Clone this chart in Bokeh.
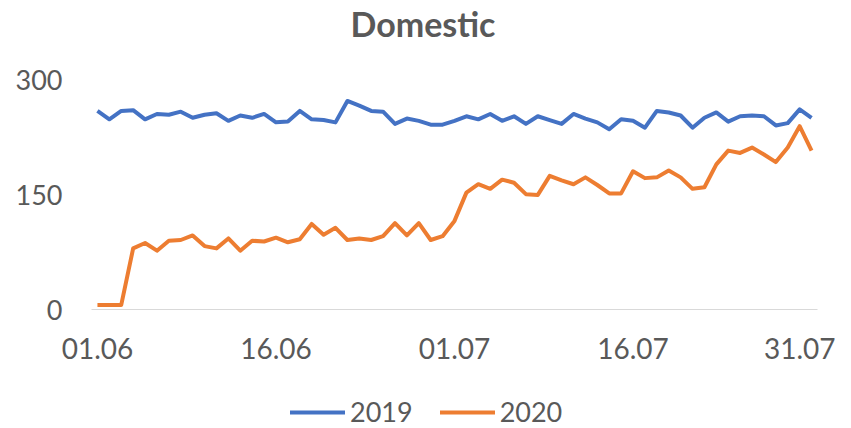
from bokeh.plotting import figure
from bokeh.layouts import column
from bokeh.models import ColumnDataSource, FixedTicker, Legend, LegendItem, Range1d
from bokeh.embed import file_html
from bokeh.resources import INLINE

# ---- data ----
days = list(range(61))  # 01.06 .. 31.07
tick_days = [0, 15, 30, 45, 60]
tick_labels = ["01.06", "16.06", "01.07", "16.07", "31.07"]
y_ticks = [0, 150, 300]

values_2019 = [260, 249, 260, 261, 249, 256, 255, 259, 251, 255, 257, 247, 254, 251, 256,
               245, 246, 260, 249, 248, 245, 273, 267, 260, 259, 243, 250, 247, 242, 242,
               247, 253, 249, 256, 247, 253, 243, 253, 248, 243, 256, 250, 245, 236, 249,
               247, 238, 260, 258, 254, 238, 251, 258, 246, 253, 254, 253, 241, 244, 262, 251]
values_2020 = [6, 6, 6, 80, 87, 77, 90, 91, 97, 83, 80, 93, 77, 90, 89,
               94, 88, 92, 112, 98, 107, 91, 93, 91, 96, 113, 97, 113, 91, 96,
               116, 153, 164, 158, 170, 166, 151, 150, 175, 169, 164, 173, 163, 152, 152,
               181, 172, 173, 182, 173, 158, 160, 190, 208, 205, 212, 203, 193, 212, 240, 208]

series_names = ["2019", "2020"]
colors = ["#4472C4", "#ED7D31"]
gray = "#595959"
font = "Lato"

# layout (pixels)
W = 835
H_MAIN = 370
FRAME_LEFT = 91
FRAME_TOP, FRAME_BOTTOM = 42, 309      # frame edges
Y300_PX = 79                            # where the 300 tick sits
y_top = 300 * (FRAME_BOTTOM - FRAME_TOP) / (FRAME_BOTTOM - Y300_PX)

src = ColumnDataSource(dict(x=days, y2019=values_2019, y2020=values_2020))

p = figure(width=W, height=H_MAIN, output_backend="svg", toolbar_location=None,
           x_range=Range1d(-0.5, 60.5), y_range=Range1d(0, y_top),
           min_border_left=FRAME_LEFT, min_border_right=18, min_border_top=FRAME_TOP,
           min_border_bottom=H_MAIN - FRAME_BOTTOM)
p.outline_line_color = None
p.background_fill_color = "white"
p.border_fill_color = "white"

p.title.text = "Domestic"
p.title.align = "left"
p.title.offset = 259
p.title.standoff = 0
p.title.text_font = font
p.title.text_font_size = "34px"
p.title.text_font_style = "bold"
p.title.text_color = gray

r1 = p.line("x", "y2019", source=src, line_color=colors[0], line_width=4, line_join="round")
r2 = p.line("x", "y2020", source=src, line_color=colors[1], line_width=4, line_join="round")

p.xgrid.visible = False
p.ygrid.visible = False

p.xaxis.ticker = FixedTicker(ticks=tick_days)
p.xaxis.major_label_overrides = {d: l for d, l in zip(tick_days, tick_labels)}
p.xaxis.axis_line_color = "#D9D9D9"
p.xaxis.axis_line_width = 1
p.xaxis.major_tick_line_color = None
p.xaxis.minor_tick_line_color = None
p.xaxis.major_label_text_font = font
p.xaxis.major_label_text_font_size = "28px"
p.xaxis.major_label_text_color = gray
p.xaxis.major_label_standoff = 22

p.yaxis.ticker = FixedTicker(ticks=y_ticks)
p.yaxis.axis_line_color = None
p.yaxis.major_tick_line_color = None
p.yaxis.minor_tick_line_color = None
p.yaxis.major_label_text_font = font
p.yaxis.major_label_text_font_size = "27px"
p.yaxis.major_label_text_color = gray
p.yaxis.major_label_standoff = 23

# legend strip below the chart (its series lines lie outside its visible range)
pl = figure(width=W, height=58, output_backend="svg", toolbar_location=None,
            x_axis_type=None, y_axis_type=None,
            x_range=Range1d(-0.5, 60.5), y_range=Range1d(-2, -1),
            min_border=0, min_border_left=0, min_border_right=0,
            min_border_top=0, min_border_bottom=0)
pl.grid.visible = False
pl.outline_line_color = None
lr1 = pl.line("x", "y2019", source=src, line_color=colors[0], line_width=4, line_cap="round")
lr2 = pl.line("x", "y2020", source=src, line_color=colors[1], line_width=4, line_cap="round")
legend = Legend(items=[LegendItem(label=series_names[0], renderers=[lr1]),
                       LegendItem(label=series_names[1], renderers=[lr2])],
                orientation="horizontal", location=(290 - FRAME_LEFT, 0),
                glyph_width=55, glyph_height=20, label_standoff=5, spacing=27,
                padding=0, margin=0, border_line_color=None, background_fill_alpha=0,
                label_text_font=font, label_text_font_size="27px", label_text_color=gray)
pl.add_layout(legend, "center")

layout = column(p, pl, spacing=0)
open("out.html", "w").write(file_html(layout, INLINE))
